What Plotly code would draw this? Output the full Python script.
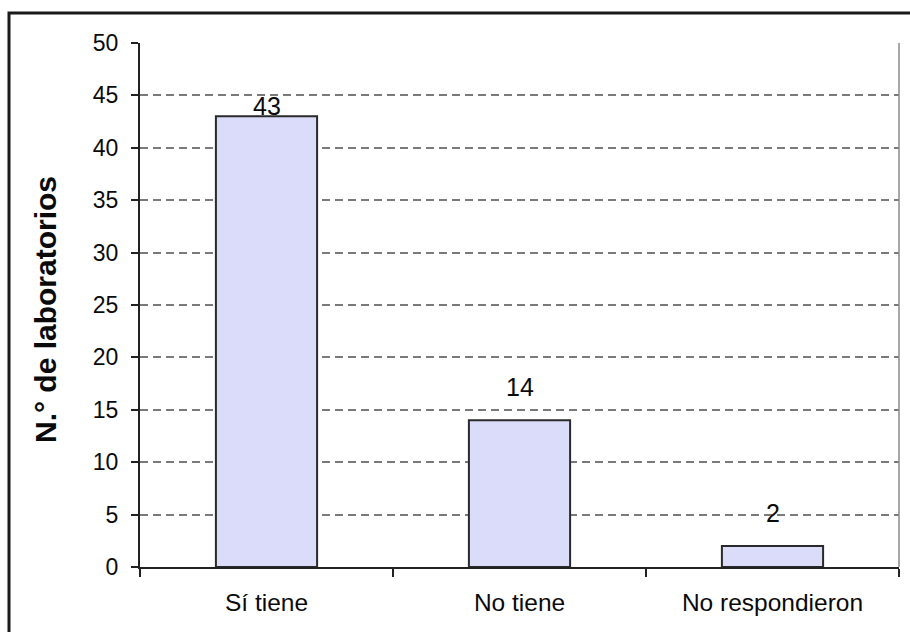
import plotly.graph_objects as go

# Survey result: laboratories by response
categories = ["Sí tiene", "No tiene", "No respondieron"]
labs = [43, 14, 2]
y_ticks = [0, 5, 10, 15, 20, 25, 30, 35, 40, 45, 50]

# Vertical offset (px) of each value label above its bar
label_shift = [10, 33, 33]

FONT = "Liberation Sans, Arial, sans-serif"

fig = go.Figure()
fig.add_trace(go.Bar(
    x=categories,
    y=labs,
    marker=dict(color="#dbdbfa", line=dict(color="#2a2a2a", width=2)),
    width=0.4,
    hoverinfo="x+y",
))

for cat, val, dy in zip(categories, labs, label_shift):
    fig.add_annotation(
        x=cat, y=val, text=str(val), showarrow=False,
        yanchor="middle", yshift=dy,
        font=dict(family=FONT, size=25, color="#0a0a0a"),
    )

# Y axis title
fig.add_annotation(
    xref="paper", yref="paper", x=(45 - 140) / 759, xanchor="center",
    y=(567 - 310) / 524, yanchor="middle",
    text="<b>N.° de laboratorios</b>", textangle=-90, showarrow=False,
    font=dict(family=FONT, size=30, color="#0a0a0a"),
)

# Right border of the plot area
fig.add_shape(type="line", xref="paper", yref="paper",
              x0=1, x1=1, y0=0, y1=1,
              line=dict(color="#8a8a8a", width=1.5))

# Outer chart frame
fig.add_shape(type="rect", xref="paper", yref="paper",
              x0=(9 - 140) / 759, x1=(930 - 140) / 759,
              y0=(567 - 660) / 524, y1=(567 - 13) / 524,
              line=dict(color="#1a1a1a", width=3), layer="above")

fig.update_layout(
    width=910, height=632,
    margin=dict(l=140, r=11, t=43, b=65),
    paper_bgcolor="white", plot_bgcolor="white",
    showlegend=False,
    font=dict(family=FONT, size=24, color="#0a0a0a"),
    xaxis=dict(
        type="category",
        tickson="boundaries", ticks="outside", ticklen=8, tickwidth=2,
        tickcolor="#222222",
        showline=True, linecolor="#222222", linewidth=2,
        showgrid=False,
        ticklabelstandoff=13,
        tickfont=dict(family=FONT, size=24.5, color="#0a0a0a"),
    ),
    yaxis=dict(
        range=[0, 50], tickvals=y_ticks,
        ticks="outside", ticklen=7, tickwidth=2, tickcolor="#222222",
        showline=True, linecolor="#222222", linewidth=2,
        showgrid=True, gridcolor="#7a7a7a", gridwidth=1.5, griddash="8px,5px",
        zeroline=False,
        ticklabelstandoff=8,
        tickfont=dict(family=FONT, size=23, color="#0a0a0a"),
    ),
)

fig.write_html("out.html")
